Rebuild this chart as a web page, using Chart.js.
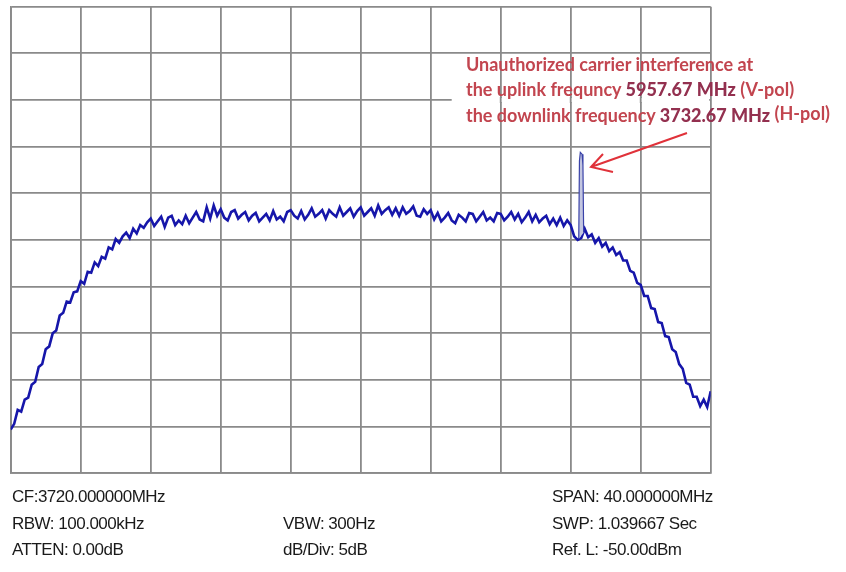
<!DOCTYPE html>
<html>
<head>
<meta charset="utf-8">
<script src="https://cdn.jsdelivr.net/npm/chart.js@4.4.1/dist/chart.umd.min.js"></script>
<style>
body { margin: 0; background: #fff; }
#wrap { position: relative; width: 846px; height: 572px; overflow: hidden; background: #fff; }
canvas { position: absolute; left: 0; top: 0; }
.info { position: absolute; font-family: "Liberation Sans", Arial, sans-serif; font-size: 17px; letter-spacing: -0.5px; color: #1a1a1a; line-height: 17px; white-space: nowrap; }
.note { position: absolute; left: 466px; font-family: Lato, sans-serif; font-weight: bold; font-size: 18px; color: #c2454f; line-height: 18px; white-space: nowrap; }
.note b { color: #93304f; }
</style>
</head>
<body>
<div id="wrap">
<canvas id="spectrum" width="846" height="572"></canvas>
<div class="note" style="top:55px">Unauthorized carrier interference at</div>
<div class="note" style="top:80px">the uplink frequncy <b>5957.67 MHz</b> (V-pol)</div>
<div class="note" style="top:106px">the downlink frequency <b>3732.67 MHz</b> <span style="position:relative;top:-2px">(H-pol)</span></div>

<div class="info" style="left:12px;top:488px">CF:3720.000000MHz</div>
<div class="info" style="left:12px;top:515px">RBW: 100.000kHz</div>
<div class="info" style="left:12px;top:541px">ATTEN: 0.00dB</div>
<div class="info" style="left:283px;top:515px">VBW: 300Hz</div>
<div class="info" style="left:283px;top:541px">dB/Div: 5dB</div>
<div class="info" style="left:552px;top:488px">SPAN: 40.000000MHz</div>
<div class="info" style="left:552px;top:515px">SWP: 1.039667 Sec</div>
<div class="info" style="left:552px;top:541px">Ref. L: -50.00dBm</div>
</div>
<script>
// sweep: 3700 - 3740 MHz, one reading every 0.2 MHz (dBm)
const startMHz = 3700;
const stepMHz = 0.2;
const levelDbm = [
  -95.3, -94.7, -93.2, -93.4, -92.1, -91.9, -90.5, -90.2, -88.6, -88.3,
  -86.7, -86.4, -85.0, -84.7, -83.1, -82.8, -81.6, -81.7, -80.6, -80.5,
  -79.4, -79.7, -78.4, -78.5, -77.4, -77.8, -76.8, -77.0, -75.8, -76.0,
  -74.9, -75.3, -74.6, -74.2, -74.8, -73.8, -74.3, -73.4, -73.7, -73.1,
  -72.7, -73.5, -73.0, -72.5, -73.6, -72.6, -72.4, -73.4, -72.9, -73.3,
  -72.4, -73.2, -72.6, -72.0, -72.8, -73.0, -71.5, -72.7, -71.3, -72.4,
  -71.7, -72.6, -72.9, -72.0, -71.8, -72.7, -72.3, -72.0, -72.9, -72.4,
  -72.1, -73.0, -72.6, -72.2, -72.9, -71.9, -72.8, -72.5, -73.0, -72.0,
  -71.8, -72.4, -72.7, -71.9, -72.8, -72.3, -71.6, -72.5, -72.2, -71.8,
  -72.7, -71.8, -72.2, -72.5, -71.5, -72.4, -72.0, -71.6, -72.5, -71.9,
  -71.5, -72.4, -72.0, -71.6, -72.4, -71.3, -72.2, -71.8, -71.5, -72.3,
  -71.6, -72.4, -71.5, -72.2, -71.9, -71.4, -72.4, -72.5, -71.7, -72.2,
  -71.8, -72.8, -72.1, -73.0, -72.6, -72.1, -72.9, -73.2, -72.3, -72.6,
  -73.0, -72.1, -72.2, -73.0, -72.5, -72.0, -72.9, -72.6, -73.0, -72.1,
  -72.2, -72.9, -72.5, -72.0, -72.8, -72.2, -73.1, -72.6, -72.0, -73.0,
  -72.3, -73.1, -72.7, -72.4, -73.3, -72.7, -73.4, -72.6, -73.5, -72.9,
  -73.4, -74.6, -75.0, -74.8, -73.8, -74.7, -74.4, -75.3, -74.8, -75.7,
  -75.3, -76.2, -75.8, -76.6, -76.3, -77.2, -77.2, -78.3, -78.5, -79.6,
  -79.8, -81.0, -81.0, -82.3, -82.4, -83.8, -83.9, -85.3, -85.4, -86.7,
  -87.0, -88.3, -88.8, -90.3, -90.5, -91.8, -91.8, -92.8, -92.1, -92.9,
  -91.2
];

// the unauthorized carrier at 3732.67 MHz
const spikeMHz = [3732.46, 3732.50, 3732.55, 3732.65, 3732.70, 3732.74];
const spikeDbm = [-74.9, -66.5, -65.6, -65.8, -67.0, -74.2];

const gridColor = '#8a8a8a';
const gridWidth = 1.8;

var trace = levelDbm.map((v, i) => ({ x: startMHz + i * stepMHz, y: v }));
var spike = spikeMHz.map((f, i) => ({ x: f, y: spikeDbm[i] }));

const notePlugin = {
	id: 'note',
	beforeDatasetsDraw(chart) {
		// white box behind the annotation hides part of one grid line
		const { ctx, chartArea, scales: { x, y } } = chart;
		const yy = y.getPixelForValue(-60);
		const x0 = x.getPixelForValue(3725.2);
		ctx.save();
		ctx.fillStyle = '#fff';
		ctx.fillRect(x0, yy - 2, chartArea.right - 1.5 - x0, 4);
		ctx.strokeStyle = gridColor;
		ctx.lineWidth = gridWidth;
		[3728, 3732, 3736].forEach((f) => {
			const px = x.getPixelForValue(f);
			ctx.beginPath();
			ctx.moveTo(px, yy - 3);
			ctx.lineTo(px, yy + 3);
			ctx.stroke();
		});
		ctx.restore();
	},
	afterDraw(chart) {
		const ctx = chart.ctx;
		ctx.save();
		ctx.strokeStyle = '#e0323a';
		ctx.lineWidth = 2;
		ctx.beginPath();
		ctx.moveTo(687, 133);
		ctx.lineTo(591, 167);
		ctx.moveTo(603, 154);
		ctx.lineTo(591, 167);
		ctx.lineTo(613, 172);
		ctx.stroke();
		ctx.restore();
	}
};

new Chart(document.getElementById('spectrum'), {
	type: 'line',
	data: {
		datasets: [{
			label: 'carrier',
			data: spike,
			borderColor: '#3a42a8',
			borderWidth: 1.2,
			backgroundColor: '#c3c6e0',
			fill: 'shape',
			pointRadius: 0,
			tension: 0
		}, {
			label: 'trace',
			data: trace,
			borderColor: '#1616aa',
			borderWidth: 2.6,
			borderJoinStyle: 'miter',
			pointRadius: 0,
			tension: 0,
			fill: false
		}]
	},
	options: {
		responsive: false,
		animation: false,
		layout: { padding: { left: 10.7, top: 6.7, right: 135.3, bottom: 98.7 } },
		plugins: { legend: { display: false }, tooltip: { enabled: false } },
		scales: {
			x: {
				type: 'linear',
				min: 3700,
				max: 3740,
				ticks: { display: false, stepSize: 4 },
				grid: { color: gridColor, lineWidth: gridWidth, drawTicks: false },
				border: { color: gridColor, width: gridWidth }
			},
			y: {
				min: -100,
				max: -50,
				ticks: { display: false, stepSize: 5 },
				grid: { color: gridColor, lineWidth: gridWidth, drawTicks: false },
				border: { color: gridColor, width: gridWidth }
			}
		}
	},
	plugins: [notePlugin]
});
</script>
</body>
</html>
